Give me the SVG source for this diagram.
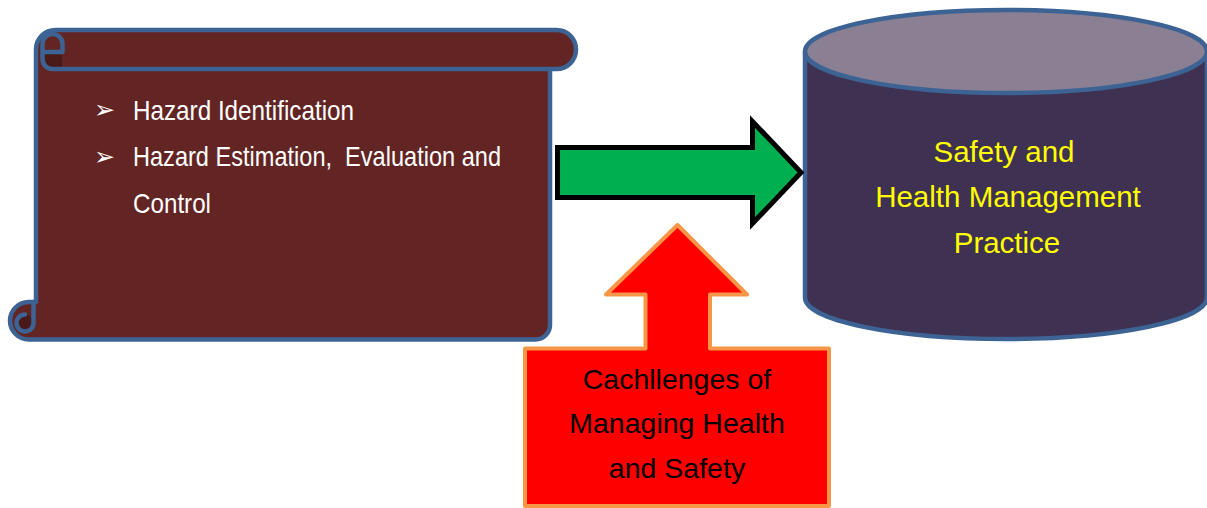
<svg xmlns="http://www.w3.org/2000/svg" width="1207" height="508" viewBox="0 0 1207 508">
  <style>
    .edge { stroke: #3D6395; stroke-width: 4.5; stroke-linejoin: round; stroke-linecap: round; }
    .scroll { fill: #632523; }
    .curl { fill: #4A1A19; }
    .item { font-family: "Liberation Sans", Arial, sans-serif; font-size: 28.5px; fill: #FFFFFF; }
    .bullet { font-family: "DejaVu Sans", sans-serif; font-size: 25px; fill: #FFFFFF; }
    .drum-label { font-family: "Liberation Sans", Arial, sans-serif; font-size: 29.5px; fill: #FFFF00; text-anchor: middle; }
    .callout-label { font-family: "Liberation Sans", Arial, sans-serif; font-size: 28.5px; fill: #000000; text-anchor: middle; }
  </style>

  <rect x="0" y="0" width="1207" height="508" fill="#FFFFFF"/>

  <!-- Horizontal scroll listing the hazard steps -->
  <g id="hazard-scroll">
    <path class="scroll edge" d="M 36,302 L 36,49.5 A 19.5 19.5 0 0 1 55.5,30 L 556.5,30 A 19.5 19.5 0 0 1 556.5,69 L 550,69 L 550,325 A 14.5 14.5 0 0 1 535.5,339.5 L 28.75,339.5 A 18.75 18.75 0 0 1 28.75,302 Z"/>
    <!-- top-left roll -->
    <path class="curl" d="M 42.5,52 L 62,52 L 62,69 L 52.5,69 A 10 10 0 0 1 42.5,59 Z"/>
    <path class="edge" fill="none" d="M 550,69 L 52.5,69 A 10 10 0 0 1 42.5,59 L 42.5,44 A 10 10 0 0 1 62.5,44 L 62.5,52 L 45,52"/>
    <!-- bottom-left roll -->
    <circle class="curl" cx="25" cy="323" r="8.5"/>
    <path class="edge" fill="none" d="M 33.5,302 L 33.5,323 A 8.5 8.5 0 1 1 25,314.5"/>

    <text class="bullet" x="94" y="118">➢</text>
    <text class="item" x="133" y="119.5" textLength="221" lengthAdjust="spacingAndGlyphs">Hazard Identification</text>
    <text class="bullet" x="94" y="164.5">➢</text>
    <text class="item" x="133" y="166" textLength="368" lengthAdjust="spacingAndGlyphs" xml:space="preserve">Hazard Estimation,  Evaluation and</text>
    <text class="item" x="133" y="212.5" textLength="78" lengthAdjust="spacingAndGlyphs">Control</text>
  </g>

  <!-- Drum: target practice -->
  <g id="practice-drum">
    <path fill="#3F3151" class="edge" d="M 805,51.5 L 805,297.5 A 201 41.5 0 0 0 1207,297.5 L 1207,51.5 Z"/>
    <ellipse cx="1006" cy="51.5" rx="201" ry="41.5" fill="#8A7F93" class="edge"/>
    <text class="drum-label" x="1004" y="162">Safety and</text>
    <text class="drum-label" x="1008" y="207">Health Management</text>
    <text class="drum-label" x="1007" y="252.5">Practice</text>
  </g>

  <!-- Up-arrow callout: challenges -->
  <g id="challenges-callout">
    <path fill="#FF0000" stroke="#F79646" stroke-width="4" stroke-linejoin="round"
          d="M 525,348.5 L 645.5,348.5 L 645.5,294.5 L 606,294.5 L 677.5,225 L 747,294.5 L 710,294.5 L 710,348.5 L 829,348.5 L 829,506 L 525,506 Z"/>
    <text class="callout-label" x="677" y="388.5">Cachllenges of</text>
    <text class="callout-label" x="677" y="433">Managing Health</text>
    <text class="callout-label" x="677" y="478">and Safety</text>
  </g>

  <!-- Block arrow from the scroll to the drum -->
  <g id="connectors">
    <path fill="#00B050" stroke="#000000" stroke-width="5" stroke-linejoin="miter"
          d="M 557.5,147.5 L 752.5,147.5 L 752.5,121.5 L 801,172.5 L 752.5,223.5 L 752.5,197.5 L 557.5,197.5 Z"/>
  </g>
</svg>
